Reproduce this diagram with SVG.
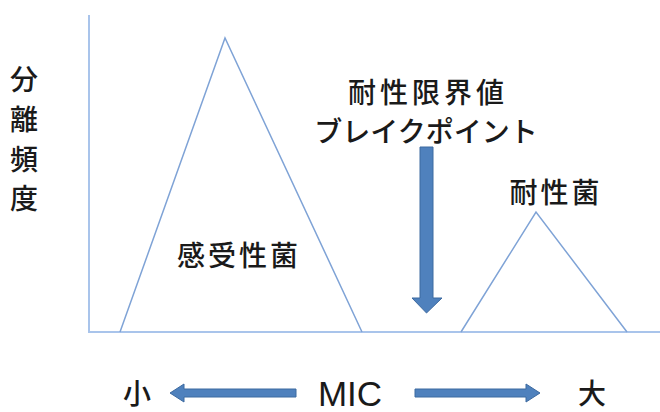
<svg xmlns="http://www.w3.org/2000/svg" width="660" height="412" viewBox="0 0 660 412">
<style>
.t{font-family:"Noto Sans CJK JP","Noto Sans CJK SC",sans-serif;fill:#1a1a1a;font-size:28px;font-weight:500;text-anchor:middle}
.axis{stroke:#a9c4eb;stroke-width:2;fill:none}
.tri{stroke:#7fa3d6;stroke-width:1.5;fill:none}
.arr{fill:#4f81bd;stroke:#3d6aa0;stroke-width:1}
</style>
<rect width="660" height="412" fill="#fff"/>
<g id="axes">
<line class="axis" x1="89" y1="15" x2="89" y2="332"/>
<line class="axis" x1="88" y1="332" x2="660" y2="332"/>
</g>
<g id="susceptible">
<polyline class="tri" points="120,332 225,38 362,332"/>
<text class="t" x="239" y="266" letter-spacing="3">感受性菌</text>
</g>
<g id="resistant">
<polyline class="tri" points="461,332 536,212 627,332"/>
<text class="t" x="556" y="203" letter-spacing="3">耐性菌</text>
</g>
<g id="breakpoint">
<text class="t" x="428" y="103" letter-spacing="4">耐性限界値</text>
<text class="t" x="426" y="142" font-size="26">ブレイクポイント</text>
</g>
<g id="ylabel">
<text class="t" x="24" y="90" font-size="26">分</text>
<text class="t" x="24" y="130" font-size="26">離</text>
<text class="t" x="24" y="170" font-size="26">頻</text>
<text class="t" x="24" y="209" font-size="26">度</text>
</g>
<g id="xlabel">
<text class="t" x="137" y="404">小</text>
<text x="350" y="406" font-family="Liberation Sans, Arial, sans-serif" font-size="35" fill="#1a1a1a" text-anchor="middle">MIC</text>
<text class="t" x="592" y="404">大</text>
</g>
<g id="connectors">
<polygon class="arr" points="420,147 433,147 433,298 442,298 426.5,313 412,298 420,298"/>
<polygon class="arr" points="296,389 184,389 184,384 170,393 184,402 184,397 296,397"/>
<polygon class="arr" points="415,389 526,389 526,384 540,393 526,402 526,397 415,397"/>
</g>
</svg>
